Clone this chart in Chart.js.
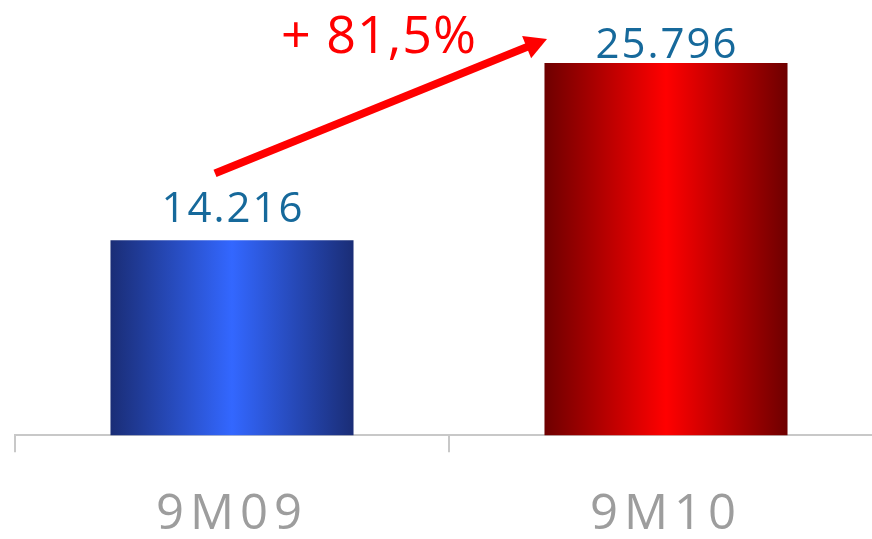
<!DOCTYPE html>
<html>
<head>
<meta charset="utf-8">
<script src="https://cdn.jsdelivr.net/npm/chart.js@4/dist/chart.umd.min.js"></script>
<style>
  html, body { margin: 0; padding: 0; background: #fff; overflow: hidden; }
  #wrap { width: 872px; height: 539px; overflow: hidden; position: relative; }
  #box { width: 888px; height: 577px; position: absolute; left: 0; top: 0; }
</style>
</head>
<body>
<div id="wrap"><div id="box"><canvas id="barChart"></canvas></div></div>
<script>
const periods = ["9M09", "9M10"];
const values = [14216, 25796];
const darkColors = ["#1a2d76", "#6e0000"];
const brightColors = ["#3367ff", "#ff0000"];

const canvas = document.getElementById("barChart");
const barShare = 0.56;

// 14216 -> "14.216"
function formatValue(v) {
  return String(v).replace(/\B(?=(\d{3})+(?!\d))/g, ".");
}

function barGradient(ctx) {
  const chart = ctx.chart;
  const xs = chart.scales.x;
  const i = ctx.dataIndex;
  if (!xs || i === undefined) return brightColors[0];
  const cx = xs.getPixelForValue(i);
  const half = (xs.width / periods.length) * barShare / 2;
  if (!isFinite(cx) || !isFinite(half) || half <= 0) return brightColors[i];
  const g = chart.ctx.createLinearGradient(cx - half, 0, cx + half, 0);
  g.addColorStop(0, darkColors[i]);
  g.addColorStop(0.5, brightColors[i]);
  g.addColorStop(1, darkColors[i]);
  return g;
}

const spacingPlugin = {
  id: "spacing",
  beforeDraw(chart) {
    chart.ctx.letterSpacing = "6px";
  }
};

const labelPlugin = {
  id: "labels",
  afterDatasetsDraw(chart, args, opts) {
    const ctx = chart.ctx;
    const bars = chart.getDatasetMeta(0).data;
    ctx.save();
    ctx.letterSpacing = "2px";
    ctx.font = "42px 'Open Sans'";
    ctx.fillStyle = "#16699b";
    ctx.textAlign = "center";
    ctx.textBaseline = "alphabetic";
    bars.forEach((b, i) => {
      ctx.fillText(formatValue(values[i]), b.x + 1, b.y - opts.gaps[i]);
    });

    // growth arrow between the two bars
    const a = bars[0], c = bars[1];
    const x1 = a.x - 17, y1 = a.y - 67;
    const x2 = c.x - 119, y2 = c.y - 24;
    const ang = Math.atan2(y2 - y1, x2 - x1);
    const headLen = 22, headHalf = 12;
    const bx = x2 - headLen * Math.cos(ang), by = y2 - headLen * Math.sin(ang);
    ctx.strokeStyle = "#ff0000";
    ctx.fillStyle = "#ff0000";
    ctx.lineWidth = 8;
    ctx.beginPath();
    ctx.moveTo(x1, y1);
    ctx.lineTo(bx + 2 * Math.cos(ang), by + 2 * Math.sin(ang));
    ctx.stroke();
    ctx.beginPath();
    ctx.moveTo(x2, y2);
    ctx.lineTo(bx + headHalf * Math.sin(ang), by - headHalf * Math.cos(ang));
    ctx.lineTo(bx - headHalf * Math.sin(ang), by + headHalf * Math.cos(ang));
    ctx.closePath();
    ctx.fill();

    const growth = ((values[1] / values[0] - 1) * 100).toFixed(1).replace(".", ",");
    ctx.letterSpacing = "1px";
    ctx.font = "52px 'Open Sans'";
    ctx.fillText("+ " + growth + "%", (a.x + c.x) / 2 - 70, 53);
    ctx.restore();
  }
};

new Chart(canvas, {
  type: "bar",
  data: {
    labels: periods,
    datasets: [{
      data: values,
      backgroundColor: barGradient,
      borderWidth: 0,
      categoryPercentage: 1,
      barPercentage: barShare
    }]
  },
  options: {
    responsive: true,
    maintainAspectRatio: false,
    animation: false,
    layout: { padding: { left: 15, right: 5, top: 0, bottom: 0 } },
    plugins: {
      legend: { display: false },
      tooltip: { enabled: false },
      labels: { gaps: [18, 5] }
    },
    scales: {
      x: {
        z: 1,
        grid: {
          color: "#c8c8c8",
          lineWidth: 2,
          drawOnChartArea: false,
          tickLength: 17
        },
        border: { color: "#c8c8c8", width: 2 },
        ticks: {
          color: "#9d9d9d",
          padding: 33,
          font: { family: "'Open Sans'", size: 49 }
        }
      },
      y: {
        display: false,
        min: 1500,
        max: 29900
      }
    }
  },
  plugins: [spacingPlugin, labelPlugin]
});
</script>
</body>
</html>
